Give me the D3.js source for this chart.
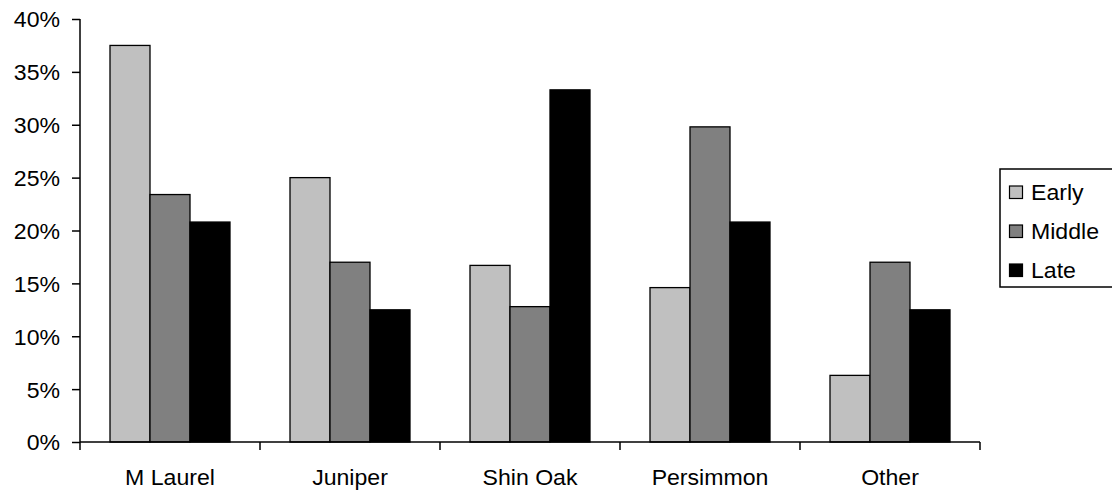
<!DOCTYPE html>
<html>
<head>
<meta charset="utf-8">
<script src="https://cdn.jsdelivr.net/npm/d3@7"></script>
<style>
  html, body { margin: 0; padding: 0; background: #fff; }
  svg { display: block; font-family: "Liberation Sans", Arial, sans-serif; }
</style>
</head>
<body>
<svg id="chart" width="1112" height="498"></svg>
<script>
// Share of browse species by period (percent)
const categories = ["M Laurel", "Juniper", "Shin Oak", "Persimmon", "Other"];
const seriesNames = ["Early", "Middle", "Late"];
const early  = [37.5, 25.0, 16.7, 14.6, 6.3];
const middle = [23.4, 17.0, 12.8, 29.8, 17.0];
const late   = [20.8, 12.5, 33.3, 20.8, 12.5];
const yTicks = [0, 5, 10, 15, 20, 25, 30, 35, 40];

const seriesValues = [early, middle, late];
const fills = ["#c0c0c0", "#808080", "#000000"];
const fontSize = "22px";
const textStretch = 1.05;

const svg = d3.select("#chart");
const plotLeft = 80, plotRight = 980, plotTop = 19, plotBottom = 442;

const x = d3.scaleBand().domain(categories).range([plotLeft, plotRight]).paddingInner(0).paddingOuter(0);
const inner = d3.scaleBand().domain(seriesNames)
  .range([x.bandwidth() / 6, x.bandwidth() * 5 / 6]).padding(0);
const y = d3.scaleLinear().domain([0, 40]).range([plotBottom, plotTop]);

// Bars
const groups = svg.append("g").selectAll("g")
  .data(categories)
  .join("g")
  .attr("transform", d => `translate(${x(d)},0)`);

groups.selectAll("rect")
  .data((c, i) => seriesNames.map((s, k) => ({ s, v: seriesValues[k][i], k })))
  .join("rect")
  .attr("x", d => inner(d.s))
  .attr("y", d => y(d.v))
  .attr("width", inner.bandwidth())
  .attr("height", d => y(0) - y(d.v))
  .attr("fill", d => fills[d.k])
  .attr("stroke", "#000")
  .attr("stroke-width", 1.3);

// Y axis
const yAxis = svg.append("g")
  .attr("transform", `translate(${plotLeft},0)`)
  .call(d3.axisLeft(y).tickValues(yTicks).tickSize(8).tickPadding(9)
    .tickFormat(d => d + "%"));
yAxis.selectAll("path, line").attr("stroke", "#000").attr("stroke-width", 1.5);
yAxis.select(".domain").attr("d", `M0,${plotBottom}V${plotTop}`);
yAxis.selectAll("text")
  .attr("fill", "#000")
  .style("font-size", fontSize)
  .attr("dy", "0.36em")
  .attr("x", -20 / textStretch)
  .attr("transform", `scale(${textStretch},1)`);

// X axis: ticks between categories
const xAxis = svg.append("g").attr("transform", `translate(0,${plotBottom})`);
xAxis.append("line")
  .attr("x1", plotLeft).attr("x2", plotRight)
  .attr("stroke", "#000").attr("stroke-width", 1.5);
const boundaries = categories.map(c => x(c)).concat([x(categories[categories.length - 1]) + x.bandwidth()]);
xAxis.selectAll("line.tick")
  .data(boundaries)
  .join("line")
  .attr("class", "tick")
  .attr("x1", d => d).attr("x2", d => d)
  .attr("y1", 0).attr("y2", 8)
  .attr("stroke", "#000").attr("stroke-width", 1.5);
xAxis.selectAll("text")
  .data(categories)
  .join("text")
  .attr("transform", d => `translate(${x(d) + x.bandwidth() / 2},43) scale(${textStretch},1)`)
  .attr("text-anchor", "middle")
  .style("font-size", fontSize)
  .attr("fill", "#000")
  .text(d => d);

// Legend
const legend = svg.append("g").attr("transform", "translate(1000,169)");
legend.append("rect")
  .attr("x", 0).attr("y", 0)
  .attr("width", 114).attr("height", 118)
  .attr("fill", "#fff").attr("stroke", "#000").attr("stroke-width", 1.5);
const items = legend.selectAll("g.item")
  .data(seriesNames)
  .join("g")
  .attr("class", "item")
  .attr("transform", (d, i) => `translate(0,${17 + i * 39})`);
items.append("rect")
  .attr("x", 9.5).attr("y", 0)
  .attr("width", 13).attr("height", 12.5)
  .attr("fill", (d, i) => fills[i])
  .attr("stroke", "#000").attr("stroke-width", 1.2);
items.append("text")
  .attr("transform", `translate(31,14) scale(${textStretch},1)`)
  .style("font-size", fontSize)
  .attr("fill", "#000")
  .text(d => d);
</script>
</body>
</html>
